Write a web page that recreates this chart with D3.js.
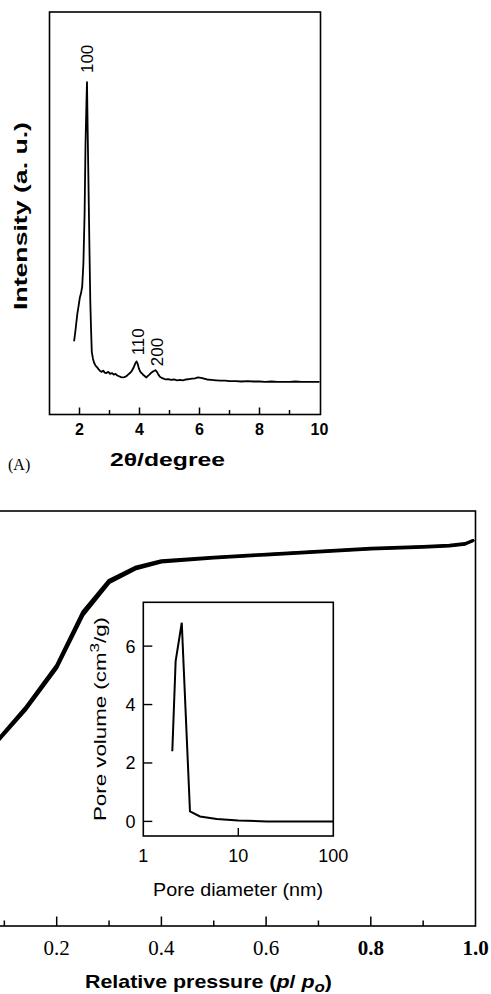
<!DOCTYPE html>
<html>
<head>
<meta charset="utf-8">
<script src="https://cdn.jsdelivr.net/npm/d3@7"></script>
<style>
  html, body { margin: 0; padding: 0; background: #fff; }
  svg { display: block; }
  text { font-family: "Liberation Sans", Arial, sans-serif; fill: #000; }
</style>
</head>
<body>
<svg id="chart" width="491" height="994"></svg>
<script>
// ---------- DATA ----------
// (A) XRD pattern: [2theta (degree), intensity (a.u.)]
const xrdPattern = [
  [1.82,182],[1.86,205],[1.90,232],[1.93,251],[1.97,270],[2.01,290],[2.05,301],[2.09,318],
  [2.13,375],[2.17,500],[2.20,670],[2.23,770],[2.25,826],[2.27,720],[2.29,620],[2.31,520],
  [2.33,420],[2.36,280],[2.39,200],[2.41,155],[2.45,138],[2.49,128],[2.54,121],[2.59,117],
  [2.64,112],[2.69,108],[2.74,106],[2.79,109],[2.84,104],[2.90,103],[2.96,106],[3.02,101],
  [3.08,103],[3.14,99],[3.20,101],[3.26,97],[3.32,95],[3.38,93],[3.44,92],[3.50,93],
  [3.56,95],[3.62,99],[3.68,103],[3.74,108],[3.80,116],[3.85,125],[3.90,132],[3.94,126],
  [3.98,114],[4.03,106],[4.08,102],[4.13,98],[4.18,95],[4.23,92],[4.28,96],[4.33,99],
  [4.38,103],[4.43,106],[4.48,108],[4.53,110],[4.58,106],[4.63,99],[4.68,94],[4.74,91],
  [4.80,89],[4.88,87],[4.96,88],[5.05,86],[5.15,87],[5.25,85],[5.35,86],[5.45,85],
  [5.55,87],[5.65,88],[5.75,89],[5.85,90],[5.95,92],[6.05,91],[6.15,89],[6.25,87],
  [6.40,86],[6.55,85],[6.70,84],[6.85,84],[7.0,83],[7.2,83],[7.4,82],[7.6,83],
  [7.8,82],[8.0,82],[8.2,81],[8.4,82],[8.6,81],[8.8,81],[9.0,81],[9.2,82],
  [9.4,81],[9.6,81],[9.8,81],[10.0,81]
];
const xrdPeaks = [
  { label: "100", theta: 2.25, intensity: 826 },
  { label: "110", theta: 3.90, intensity: 132 },
  { label: "200", theta: 4.53, intensity: 110 }
];
const xrdTicks = [2, 4, 6, 8, 10];
const xrdMinorTicks = [3, 5, 7, 9];

// (B) N2 isotherm: [p/p0, volume]
const isoAdsorption = [
  [0.09,317],[0.14,368],[0.20,440],[0.25,530],[0.30,583],[0.35,605],[0.40,616],
  [0.50,622],[0.60,627],[0.70,632],[0.80,637],[0.90,640],[0.95,642],[0.98,645],[0.995,650]
];
const isoDesorption = [
  [0.09,314],[0.14,364],[0.20,435],[0.25,524],[0.30,579],[0.35,602],[0.40,614],
  [0.50,621],[0.60,626],[0.70,631],[0.80,636],[0.90,639],[0.95,641],[0.98,644],[0.995,650]
];
const pressureTicks = [0.2, 0.4, 0.6, 0.8, 1.0];
const pressureMinorTicks = [0.1, 0.3, 0.5, 0.7, 0.9];
const pressureBoldTicks = [0.8, 1.0];

// Inset: pore size distribution [diameter (nm), pore volume]
const poreDist = [
  [2.02,2.4],[2.19,5.49],[2.54,6.80],[3.10,0.34],[3.95,0.17],[5.93,0.08],
  [10,0.03],[20,0.0],[100,0.0]
];
const poreXTicks = [1, 10, 100];
const poreYTicks = [0, 2, 4, 6];

// ---------- DRAW ----------
const svg = d3.select("#chart");
svg.append("rect").attr("width", 491).attr("height", 994).attr("fill", "#fff");
const serif = "'Liberation Serif', 'Times New Roman', serif";

// ===== Chart A =====
const A = { left: 49.5, right: 320.5, top: 12, bottom: 414.5 };
const xA = d3.scaleLinear().domain([1, 10]).range([A.left, A.right - 1]);
const yA = d3.scaleLinear().domain([0, 1000]).range([A.bottom, A.top]);

const gA = svg.append("g");
gA.append("rect")
  .attr("x", A.left).attr("y", A.top)
  .attr("width", A.right - A.left).attr("height", A.bottom - A.top)
  .attr("fill", "none").attr("stroke", "#000").attr("stroke-width", 1.6);

gA.append("g").selectAll("line").data(xrdTicks.filter(d => d < 10)).join("line")
  .attr("x1", d => xA(d)).attr("x2", d => xA(d))
  .attr("y1", A.bottom).attr("y2", A.bottom - 7)
  .attr("stroke", "#000").attr("stroke-width", 1.5);
gA.append("g").selectAll("line").data(xrdMinorTicks).join("line")
  .attr("x1", d => xA(d)).attr("x2", d => xA(d))
  .attr("y1", A.bottom).attr("y2", A.bottom - 4.5)
  .attr("stroke", "#000").attr("stroke-width", 1.5);
gA.append("g").selectAll("text").data(xrdTicks).join("text")
  .attr("x", d => xA(d)).attr("y", 434.5)
  .attr("text-anchor", "middle")
  .attr("font-size", 16).attr("font-weight", "bold")
  .text(d => d);

gA.append("text")
  .attr("x", 167.5).attr("y", 466)
  .attr("text-anchor", "middle").attr("font-size", 19).attr("font-weight", "bold")
  .attr("textLength", 115).attr("lengthAdjust", "spacingAndGlyphs")
  .text("2θ/degree");

gA.append("text")
  .attr("x", 8).attr("y", 470)
  .style("font-family", serif)
  .attr("font-size", 16)
  .text("(A)");

gA.append("text")
  .attr("transform", "translate(27,216) rotate(-90)")
  .attr("text-anchor", "middle").attr("font-size", 19).attr("font-weight", "bold")
  .attr("textLength", 188).attr("lengthAdjust", "spacingAndGlyphs")
  .text("Intensity (a. u.)");

const lineA = d3.line().x(d => xA(d[0])).y(d => yA(d[1]));
gA.append("path").datum(xrdPattern)
  .attr("d", lineA).attr("fill", "none")
  .attr("stroke", "#000").attr("stroke-width", 1.8).attr("stroke-linejoin", "round");

const peakOffsets = { "100": { dx: 0, dy: -9 }, "110": { dx: 2, dy: -6 }, "200": { dx: 2, dy: -4 } };
gA.append("g").selectAll("text").data(xrdPeaks).join("text")
  .attr("transform", d => `translate(${xA(d.theta) + peakOffsets[d.label].dx},${yA(d.intensity) + peakOffsets[d.label].dy}) rotate(-90)`)
  .attr("dominant-baseline", "central")
  .attr("font-size", 17)
  .text(d => d.label);

// ===== Chart B =====
const B = { right: 475.5, top: 511, bottom: 926 };
const xB = d3.scaleLinear().domain([0, 1]).range([-48, B.right]);
const yB = d3.scaleLinear().domain([0, 700]).range([B.bottom, B.top]);
const gB = svg.append("g");
gB.append("rect")
  .attr("x", xB(0)).attr("y", B.top)
  .attr("width", B.right - xB(0)).attr("height", B.bottom - B.top)
  .attr("fill", "none").attr("stroke", "#000").attr("stroke-width", 1.6);

gB.append("g").selectAll("line").data(pressureTicks.filter(d => d < 1)).join("line")
  .attr("x1", d => xB(d)).attr("x2", d => xB(d))
  .attr("y1", B.bottom).attr("y2", B.bottom - 9.5)
  .attr("stroke", "#000").attr("stroke-width", 1.5);
gB.append("g").selectAll("line").data(pressureMinorTicks).join("line")
  .attr("x1", d => xB(d)).attr("x2", d => xB(d))
  .attr("y1", B.bottom).attr("y2", B.bottom - 5.5)
  .attr("stroke", "#000").attr("stroke-width", 1.5);
gB.append("g").selectAll("text").data(pressureTicks).join("text")
  .attr("x", d => xB(d)).attr("y", 955)
  .attr("text-anchor", "middle")
  .style("font-family", serif)
  .attr("font-size", 21)
  .attr("font-weight", d => pressureBoldTicks.includes(d) ? "bold" : "normal")
  .text(d => d.toFixed(1));

const xlabB = gB.append("text")
  .attr("x", 85).attr("y", 988)
  .attr("font-size", 19).attr("font-weight", "bold")
  .attr("textLength", 247).attr("lengthAdjust", "spacingAndGlyphs");
xlabB.append("tspan").text("Relative pressure (");
xlabB.append("tspan").attr("font-style", "italic").text("p");
xlabB.append("tspan").text("/ ");
xlabB.append("tspan").attr("font-style", "italic").text("p");
xlabB.append("tspan").attr("font-style", "italic").attr("dy", 4).attr("font-size", 15).text("o");
xlabB.append("tspan").attr("dy", -4).text(")");

const lineB = d3.line().x(d => xB(d[0])).y(d => yB(d[1]));
[isoAdsorption, isoDesorption].forEach(ser => {
  gB.append("path").datum(ser)
    .attr("d", lineB).attr("fill", "none")
    .attr("stroke", "#000").attr("stroke-width", 3.1)
    .attr("stroke-linecap", "round").attr("stroke-linejoin", "round");
});

// ===== Inset =====
const I = { left: 143.3, right: 333.3, top: 602.3, bottom: 836 };
const xI = d3.scaleLog().domain([1, 100]).range([I.left, I.right]);
const yI = d3.scaleLinear().domain([-0.5, 7.5]).range([I.bottom, I.top]);
const gI = svg.append("g");
gI.append("rect")
  .attr("x", I.left).attr("y", I.top)
  .attr("width", I.right - I.left).attr("height", I.bottom - I.top)
  .attr("fill", "#fff").attr("stroke", "#000").attr("stroke-width", 1.6);

gI.append("g").selectAll("line").data(poreYTicks).join("line")
  .attr("x1", I.left).attr("x2", I.left + 9)
  .attr("y1", d => yI(d)).attr("y2", d => yI(d))
  .attr("stroke", "#000").attr("stroke-width", 1.4);
gI.append("g").selectAll("text").data(poreYTicks).join("text")
  .attr("x", 135.5).attr("y", d => yI(d) + 6.5)
  .attr("text-anchor", "end")
  .attr("font-size", 18)
  .text(d => d);
gI.append("g").selectAll("line").data(poreXTicks.filter(d => d > 1 && d < 100)).join("line")
  .attr("x1", d => xI(d)).attr("x2", d => xI(d))
  .attr("y1", I.bottom).attr("y2", I.bottom - 8)
  .attr("stroke", "#000").attr("stroke-width", 1.4);
gI.append("g").selectAll("text").data(poreXTicks).join("text")
  .attr("x", d => xI(d)).attr("y", 862)
  .attr("text-anchor", "middle")
  .attr("font-size", 18)
  .text(d => d);

gI.append("text")
  .attr("x", 238).attr("y", 896)
  .attr("text-anchor", "middle").attr("font-size", 18.5)
  .attr("textLength", 170).attr("lengthAdjust", "spacingAndGlyphs")
  .text("Pore diameter (nm)");

const ylabI = gI.append("text")
  .attr("transform", "translate(106,821) rotate(-90)")
  .attr("font-size", 17)
  .attr("textLength", 204).attr("lengthAdjust", "spacingAndGlyphs");
ylabI.append("tspan").text("Pore volume (cm");
ylabI.append("tspan").attr("dy", -7).attr("font-size", 13).text("3");
ylabI.append("tspan").attr("dy", 7).text("/g)");

const lineI = d3.line().x(d => xI(d[0])).y(d => yI(d[1]));
gI.append("path").datum(poreDist)
  .attr("d", lineI).attr("fill", "none")
  .attr("stroke", "#000").attr("stroke-width", 2).attr("stroke-linejoin", "miter");
</script>
</body>
</html>
